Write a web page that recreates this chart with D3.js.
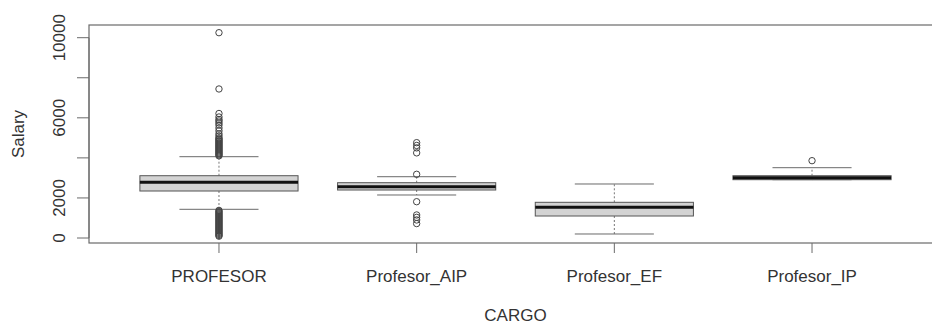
<!DOCTYPE html>
<html>
<head>
<meta charset="utf-8">
<script src="https://cdn.jsdelivr.net/npm/d3@7"></script>
<style>
  body { margin: 0; background: #fff; }
  svg { display: block; font-family: "Liberation Sans", Arial, sans-serif; }
</style>
</head>
<body>
<div id="chart"></div>
<script>
// categories (CARGO)
const categories = ['PROFESOR', 'Profesor_AIP', 'Profesor_EF', 'Profesor_IP'];

// five-number summaries: [lowWhisker, q1, median, q3, highWhisker]
const lowWhisker = [1433, 2147, 200, 2911];
const q1 = [2346, 2396, 1098, 2911];
const median = [2781, 2561, 1533, 3010];
const q3 = [3110, 2761, 1782, 3110];
const highWhisker = [4059, 3060, 2696, 3510];

// outliers per category
const outliersProfesor = [10250, 7440, 6216, 6041, 5916, 5841, 5741, 5641, 5492, 5350, 5200, 5100,
  5000, 4950, 4900, 4850, 4800, 4750, 4700, 4650, 4600, 4550, 4500, 4450, 4400, 4350, 4300, 4250, 4200, 4150, 4100,
  1380, 1330, 1280, 1230, 1180, 1130, 1080, 1030, 980, 930, 880, 830, 780, 730, 680, 630, 580, 530, 480, 430, 380,
  330, 280, 230, 180, 130, 90];
const outliersAIP = [4760, 4620, 4500, 4250, 3180, 1812, 1150, 1030, 900, 720];
const outliersEF = [];
const outliersIP = [3860];
const outliers = [outliersProfesor, outliersAIP, outliersEF, outliersIP];

// y axis ticks
const yTicks = [0, 2000, 4000, 6000, 8000, 10000];
const yTickLabels = ['0', '2000', '', '6000', '', '10000'];

const width = 932, height = 324;
const plot = { left: 89, top: 25, bottom: 243 };

const svg = d3.select('#chart').append('svg')
  .attr('width', width)
  .attr('height', height);

// x scale: R style 0.5..4.5 widened by 4%
const x = d3.scaleLinear().domain([0.34, 4.66]).range([88.5, 942.5]);
const y = d3.scaleLinear().domain([0, 10000]).range([238, 37.7]);
const unit = x(2) - x(1);
const boxW = unit * 0.8;
const stapleW = boxW * 0.5;

const lineCol = '#6a6a6a';
const textCol = '#333';

// plot frame (right edge falls off the picture)
svg.append('rect')
  .attr('x', plot.left)
  .attr('y', plot.top)
  .attr('width', 942.5 - plot.left)
  .attr('height', plot.bottom - plot.top)
  .attr('fill', 'none')
  .attr('stroke', lineCol)
  .attr('stroke-width', 1.2);

const data = categories.map((c, i) => ({
  cat: c, i: i + 1,
  lo: lowWhisker[i], q1: q1[i], med: median[i], q3: q3[i], hi: highWhisker[i],
  out: outliers[i]
}));

const g = svg.selectAll('.box').data(data).enter().append('g').attr('class', 'box');

// whiskers (dashed)
g.append('line')
  .attr('x1', d => x(d.i)).attr('x2', d => x(d.i))
  .attr('y1', d => y(d.q3)).attr('y2', d => y(d.hi))
  .attr('stroke', '#777').attr('stroke-dasharray', '2,2');
g.append('line')
  .attr('x1', d => x(d.i)).attr('x2', d => x(d.i))
  .attr('y1', d => y(d.q1)).attr('y2', d => y(d.lo))
  .attr('stroke', '#777').attr('stroke-dasharray', '2,2');

// staples
g.append('line')
  .attr('x1', d => x(d.i) - stapleW / 2).attr('x2', d => x(d.i) + stapleW / 2)
  .attr('y1', d => y(d.hi)).attr('y2', d => y(d.hi))
  .attr('stroke', lineCol);
g.append('line')
  .attr('x1', d => x(d.i) - stapleW / 2).attr('x2', d => x(d.i) + stapleW / 2)
  .attr('y1', d => y(d.lo)).attr('y2', d => y(d.lo))
  .attr('stroke', lineCol);

// boxes
g.append('rect')
  .attr('x', d => x(d.i) - boxW / 2)
  .attr('y', d => y(d.q3))
  .attr('width', boxW)
  .attr('height', d => y(d.q1) - y(d.q3))
  .attr('fill', '#d3d3d3')
  .attr('stroke', '#555');

// medians
g.append('line')
  .attr('x1', d => x(d.i) - boxW / 2).attr('x2', d => x(d.i) + boxW / 2)
  .attr('y1', d => y(d.med)).attr('y2', d => y(d.med))
  .attr('stroke', '#111').attr('stroke-width', 3);

// outliers
g.selectAll('circle')
  .data(d => d.out.map(v => ({ i: d.i, v })))
  .enter().append('circle')
  .attr('cx', d => x(d.i))
  .attr('cy', d => y(d.v))
  .attr('r', 3.2)
  .attr('fill', 'none')
  .attr('stroke', '#444')
  .attr('stroke-width', 1);

// y axis
const yAxis = svg.append('g');
yAxis.append('line')
  .attr('x1', plot.left).attr('x2', plot.left)
  .attr('y1', y(0)).attr('y2', y(10000))
  .attr('stroke', lineCol);
yAxis.selectAll('.yt').data(yTicks).enter().append('line')
  .attr('x1', plot.left - 12).attr('x2', plot.left)
  .attr('y1', d => y(d)).attr('y2', d => y(d))
  .attr('stroke', lineCol);
yAxis.selectAll('.yl').data(yTicks).enter().append('text')
  .attr('transform', d => `translate(65,${y(d)}) rotate(-90)`)
  .attr('text-anchor', 'middle')
  .attr('fill', textCol)
  .style('font-size', '17px')
  .text((d, i) => yTickLabels[i]);

// x axis ticks and labels
const xAxis = svg.append('g');
xAxis.selectAll('.xt').data(data).enter().append('line')
  .attr('x1', d => x(d.i)).attr('x2', d => x(d.i))
  .attr('y1', plot.bottom).attr('y2', plot.bottom + 10)
  .attr('stroke', lineCol);
xAxis.selectAll('.xl').data(data).enter().append('text')
  .attr('x', d => x(d.i))
  .attr('y', 282)
  .attr('text-anchor', 'middle')
  .attr('fill', textCol)
  .style('font-size', '17px')
  .text(d => d.cat);

// axis titles
svg.append('text')
  .attr('x', 515.5).attr('y', 321)
  .attr('text-anchor', 'middle')
  .attr('fill', textCol)
  .style('font-size', '17px')
  .text('CARGO');
svg.append('text')
  .attr('transform', `translate(24,134) rotate(-90)`)
  .attr('text-anchor', 'middle')
  .attr('fill', textCol)
  .style('font-size', '17px')
  .text('Salary');
</script>
</body>
</html>
